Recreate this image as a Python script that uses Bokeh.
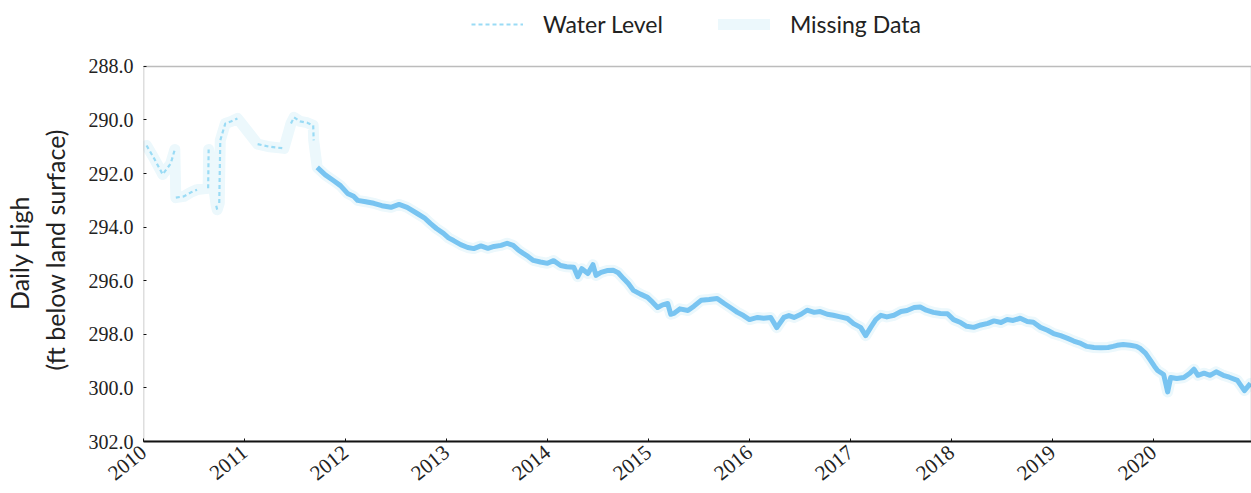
import math
from bokeh.plotting import figure
from bokeh.models import Range1d, FixedTicker, NumeralTickFormatter, BasicTickFormatter, Legend, LegendItem, BoxAnnotation
from bokeh.embed import file_html
from bokeh.resources import INLINE

nan = float("nan")

# Early record (sparse, with gaps) - decimal year / ft below land surface
early_year = [2010.03, 2010.10, 2010.19, 2010.27, 2010.31, nan,
              2010.32, 2010.40, 2010.47, 2010.53, nan,
              2010.64, 2010.645, nan,
              2010.72, 2010.73, nan,
              2010.75, 2010.76, 2010.81, 2010.87, 2010.93, nan,
              2011.13, 2011.25, 2011.39, nan,
              2011.46, 2011.49, 2011.55, 2011.62, 2011.68, 2011.685]
early_level = [290.95, 291.40, 292.03, 291.62, 291.10, nan,
               292.90, 292.85, 292.70, 292.60, nan,
               292.55, 291.10, nan,
               293.20, 293.35, nan,
               293.10, 290.76, 290.13, 290.05, 289.94, nan,
               290.90, 291.00, 291.06, nan,
               290.13, 289.90, 290.05, 290.10, 290.20, 290.76]

# Continuous record
main_year = [2011.72, 2011.80, 2011.88, 2011.95, 2012.02, 2012.08, 2012.12, 2012.20, 2012.28, 2012.36,
             2012.45, 2012.53, 2012.61, 2012.71, 2012.78, 2012.84, 2012.90, 2012.97, 2013.02, 2013.07,
             2013.14, 2013.21, 2013.27, 2013.34, 2013.41, 2013.47, 2013.54, 2013.60, 2013.66, 2013.71,
             2013.76, 2013.81, 2013.86, 2013.93, 2014.00, 2014.06, 2014.13, 2014.19, 2014.26, 2014.30,
             2014.34, 2014.40, 2014.45, 2014.48, 2014.53, 2014.59, 2014.65, 2014.70, 2014.75, 2014.80,
             2014.85, 2014.92, 2014.99, 2015.04, 2015.09, 2015.14, 2015.19, 2015.22, 2015.25, 2015.31,
             2015.39, 2015.45, 2015.52, 2015.60, 2015.68, 2015.75, 2015.81, 2015.88, 2015.94, 2016.00,
             2016.08, 2016.14, 2016.21, 2016.27, 2016.34, 2016.39, 2016.44, 2016.51, 2016.57, 2016.64,
             2016.70, 2016.77, 2016.83, 2016.90, 2016.97, 2017.03, 2017.10, 2017.15, 2017.20, 2017.25,
             2017.30, 2017.36, 2017.43, 2017.50, 2017.56, 2017.63, 2017.69, 2017.75, 2017.82, 2017.89,
             2017.96, 2018.02, 2018.09, 2018.15, 2018.22, 2018.29, 2018.36, 2018.42, 2018.49, 2018.55,
             2018.61, 2018.68, 2018.75, 2018.81, 2018.88, 2018.95, 2019.01, 2019.08, 2019.15, 2019.21,
             2019.28, 2019.34, 2019.41, 2019.48, 2019.55, 2019.60, 2019.64, 2019.70, 2019.77, 2019.83,
             2019.87, 2019.92, 2019.97, 2020.01, 2020.04, 2020.10, 2020.14, 2020.17, 2020.23, 2020.30,
             2020.36, 2020.40, 2020.44, 2020.50, 2020.56, 2020.62, 2020.69, 2020.75, 2020.83, 2020.90,
             2020.96]
main_level = [291.77, 292.05, 292.26, 292.45, 292.74, 292.85, 293.00, 293.05, 293.11, 293.20,
              293.26, 293.15, 293.26, 293.49, 293.65, 293.86, 294.05, 294.23, 294.40, 294.50,
              294.65, 294.76, 294.80, 294.70, 294.79, 294.72, 294.68, 294.60, 294.68, 294.85,
              294.98, 295.10, 295.24, 295.30, 295.35, 295.25, 295.43, 295.48, 295.50, 295.85,
              295.55, 295.73, 295.40, 295.80, 295.69, 295.62, 295.61, 295.70, 295.91, 296.10,
              296.36, 296.50, 296.62, 296.80, 297.00, 296.90, 296.85, 297.25, 297.22, 297.05,
              297.11, 296.95, 296.73, 296.70, 296.66, 296.85, 297.00, 297.18, 297.30, 297.45,
              297.37, 297.40, 297.37, 297.75, 297.37, 297.30, 297.37, 297.25, 297.10, 297.18,
              297.15, 297.25, 297.29, 297.35, 297.41, 297.60, 297.74, 298.05, 297.74, 297.45,
              297.29, 297.35, 297.29, 297.15, 297.11, 297.00, 296.98, 297.10, 297.18, 297.22,
              297.23, 297.45, 297.56, 297.70, 297.74, 297.65, 297.59, 297.50, 297.56, 297.45,
              297.48, 297.40, 297.52, 297.55, 297.74, 297.85, 297.97, 298.05, 298.15, 298.25,
              298.34, 298.45, 298.49, 298.50, 298.49, 298.45, 298.41, 298.38, 298.41, 298.45,
              298.53, 298.70, 298.97, 299.20, 299.35, 299.50, 300.15, 299.61, 299.65, 299.61,
              299.45, 299.30, 299.53, 299.45, 299.53, 299.40, 299.53, 299.60, 299.72, 300.10,
              299.83]

year_ticks = [2010, 2011, 2012, 2013, 2014, 2015, 2016, 2017, 2018, 2019, 2020]
depth_ticks = [288, 290, 292, 294, 296, 298, 300, 302]

X_START, X_END = 2010, 2020.97
Y_BOTTOM, Y_TOP = 302, 288
# the frame extends above 288 ft to leave room for the legend inside the frame
p = figure(width=1251, height=493, output_backend="svg", toolbar_location=None,
           x_range=Range1d(X_START, X_END), y_range=Range1d(Y_BOTTOM, 285.54),
           min_border_left=143, min_border_right=0, min_border_top=0, min_border_bottom=52)

p.xgrid.visible = False
p.ygrid.visible = False
p.background_fill_color = "white"
p.border_fill_color = "white"
p.outline_line_color = None

# plot box from 288 to 302 ft
p.add_layout(BoxAnnotation(left=X_START, right=X_END, top=Y_TOP, bottom=Y_BOTTOM,
                           fill_alpha=0, line_color="#222222", line_width=1.5))

# Missing data band (pale, connects across gaps)
all_year = [y for y in early_year if not math.isnan(y)] + main_year
all_level = [v for v in early_level if not math.isnan(v)] + main_level
r_missing = p.line(all_year, all_level, line_color="#ecf8fc", line_width=11,
                   line_join="round", line_cap="round")

r_early = p.line(early_year, early_level, line_color="#9adbf5", line_width=2.2,
                 line_dash="4 3")
r_main = p.line(main_year, main_level, line_color="#78c4f1", line_width=5,
                line_join="round")

# Axes
p.xaxis.ticker = FixedTicker(ticks=year_ticks)
p.xaxis.formatter = BasicTickFormatter(use_scientific=False)
p.xaxis.major_label_orientation = 0.68
p.yaxis.ticker = FixedTicker(ticks=depth_ticks)
p.yaxis.formatter = NumeralTickFormatter(format="0.0")
for ax in (p.xaxis[0], p.yaxis[0]):
    ax.axis_line_color = "#111111"
    ax.axis_line_width = 2
    ax.major_tick_in = 3
    ax.major_tick_out = 0
    ax.major_tick_line_color = "#111111"
    ax.minor_tick_line_color = None
    ax.major_label_text_font = "Liberation Serif"
    ax.major_label_text_color = "#222222"
p.yaxis.axis_line_color = None
p.xaxis.major_label_text_font_size = "21px"
p.yaxis.major_label_text_font_size = "20px"
p.xaxis.major_label_standoff = 8
p.yaxis.major_label_standoff = 10

NB = "\u00a0"
p.yaxis.axis_label = "Daily High" + NB * 10 + "\n(ft below land surface)" + NB * 9
p.yaxis.axis_label_text_font = "Lato"
p.yaxis.axis_label_text_font_size = "25px"
p.yaxis.axis_label_text_font_style = "normal"
p.yaxis.axis_label_text_color = "#222222"
p.yaxis.axis_label_standoff = 16

legend = Legend(items=[LegendItem(label="Water Level", renderers=[r_early]),
                       LegendItem(label="Missing Data", renderers=[r_missing])],
                orientation="horizontal", location=(328, 403))
legend.label_text_font = "Lato"
legend.label_text_font_size = "23px"
legend.label_text_color = "#222222"
legend.glyph_width = 52
legend.glyph_height = 20
legend.label_standoff = 20
legend.spacing = 55
legend.padding = 8
legend.border_line_color = None
legend.background_fill_alpha = 0
p.add_layout(legend, "center")

open("out.html", "w").write(file_html(p, INLINE))
